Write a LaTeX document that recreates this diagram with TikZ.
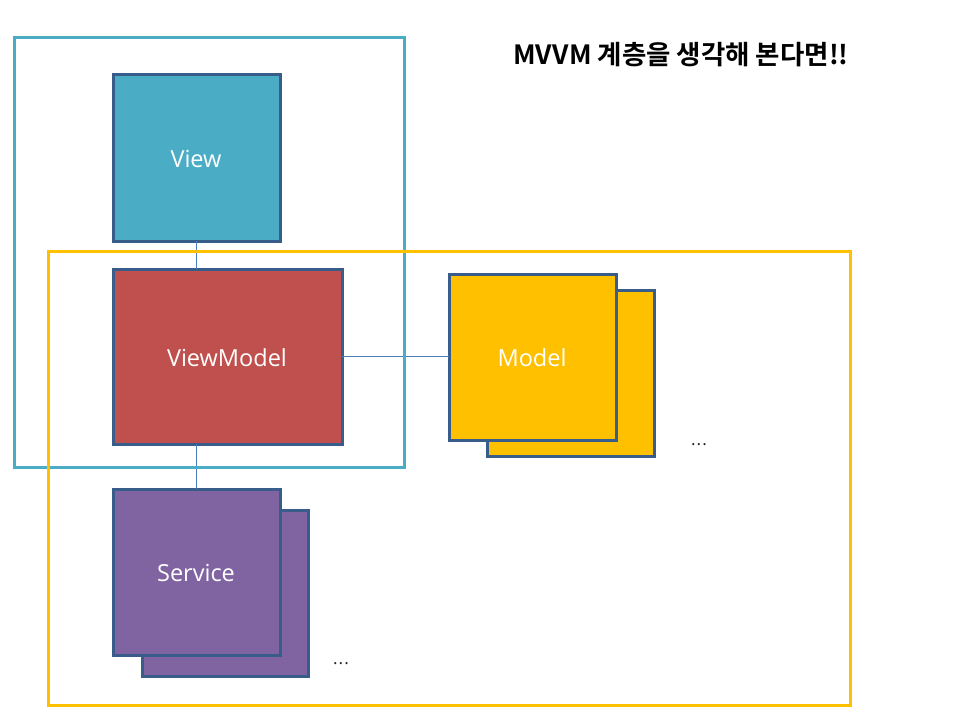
\documentclass[tikz,border=0pt]{standalone}
\usepackage{fontspec}
\setmainfont{Open Sans}
\newfontfamily\krfont{Noto Sans CJK KR}[BoldFont={Noto Sans CJK KR Bold}]
\definecolor{cyanA}{HTML}{4BACC6}
\definecolor{redA}{HTML}{C0504D}
\definecolor{goldA}{HTML}{FFC000}
\definecolor{purpA}{HTML}{8064A2}
\definecolor{edgeA}{HTML}{385D8A}
\definecolor{lineA}{HTML}{4A7EBB}
\tikzset{
  box/.style={draw=edgeA, line width=3pt, inner sep=0pt, outer sep=0pt, anchor=north west},
  lbl/.style={text=white, font=\fontsize{23.5}{26}\selectfont},
  frame/.style={line width=3pt},
  conn/.style={draw=lineA, line width=1.1pt},
  dots/.style={font=\fontsize{17}{20}\selectfont, text=black!85}
}
\begin{document}
\begin{tikzpicture}[x=1pt,y=-1pt]
\useasboundingbox (0,0) rectangle (960,720);
\node[box, fill=purpA, minimum width=166pt, minimum height=166pt] (S2) at (142,510) {};
\node[box, fill=purpA, minimum width=167pt, minimum height=166pt] (S) at (113,489) {};
\node[box, fill=goldA, minimum width=167pt, minimum height=166pt] (M2) at (487,290) {};
\node[box, fill=goldA, minimum width=167pt, minimum height=166pt] (M) at (449,274) {};
\node[box, fill=cyanA, minimum width=167pt, minimum height=167pt] (V) at (113,74) {};
\node[box, fill=redA, minimum width=229pt, minimum height=175pt] (VM) at (113,269) {};
\draw[conn] (V.south) -- (V.south |- VM.north);
\draw[conn] (V.south |- VM.south) -- (V.south |- S.north);
\draw[conn] (VM.east) -- (VM.east -| M.west);
\draw[frame, draw=cyanA] (14,37) rectangle (404,467);
\draw[frame, draw=goldA] (48,251) rectangle (850,705);
\node[lbl] (tV) at (196,159) {View};
\node[lbl] (tVM) at (227,358) {ViewModel};
\node[lbl] (tM) at (532,358) {Model};
\node[lbl] (tS) at (196,573) {Service};
\node[dots] (d1) at (699,445) {.\kern1.2pt.\kern1.2pt.};
\node[dots] (d2) at (341,664) {.\kern1.2pt.\kern1.2pt.};
\node[font=\krfont\bfseries\fontsize{26.5}{30}\selectfont] (title) at (681,55) {MVVM 계층을 생각해 본다면!!};
\end{tikzpicture}
\end{document}
